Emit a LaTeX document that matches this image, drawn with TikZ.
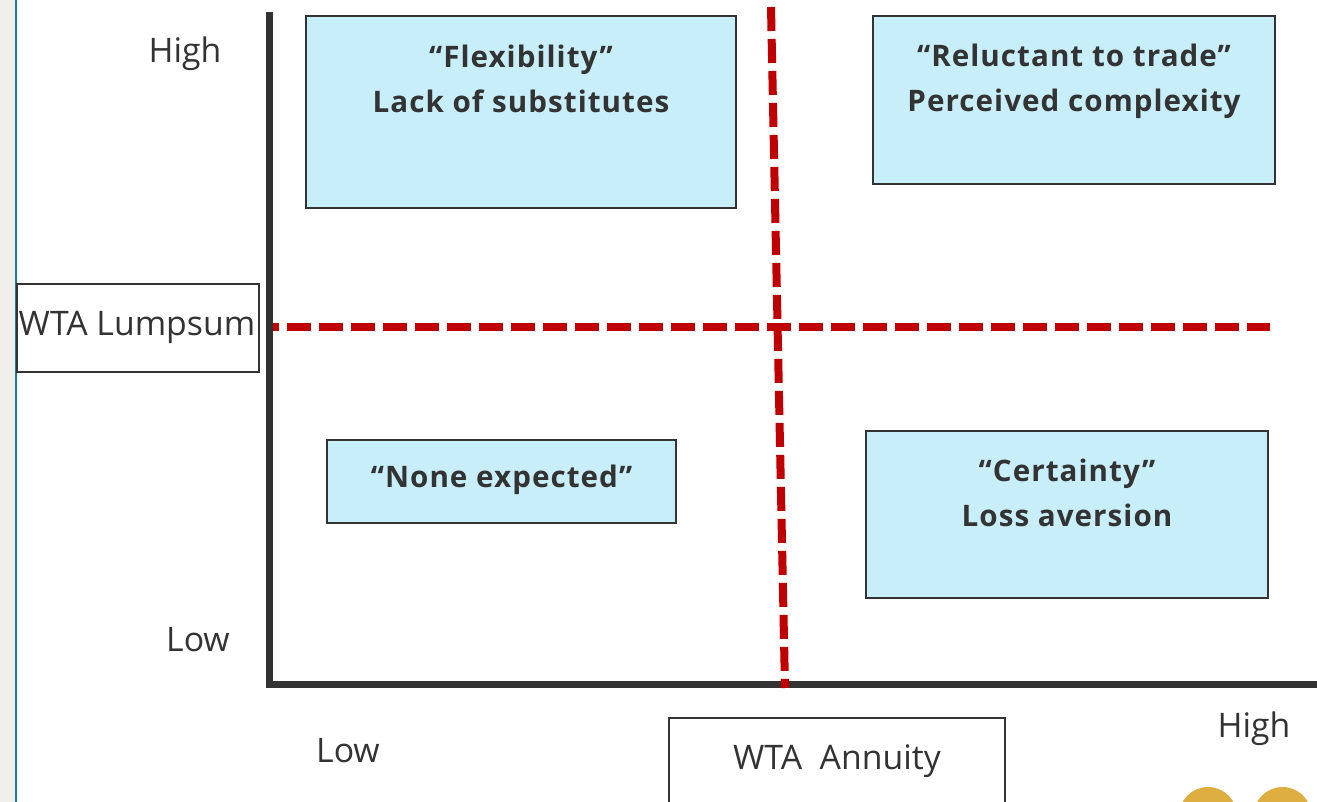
\documentclass[tikz,border=0pt]{standalone}
\usepackage{fontspec}
\setmainfont{Open Sans}
\newfontfamily\quadfont[LetterSpace=3.5]{Open Sans}
\usetikzlibrary{positioning}
\usepackage{xcolor}

\definecolor{inkgray}{HTML}{333333}
\definecolor{cutred}{HTML}{C00000}
\definecolor{quadfill}{HTML}{C7EEF9}
\definecolor{edgeteal}{HTML}{1B7C9C}
\definecolor{stripgray}{HTML}{F0EFEB}
\definecolor{dotgold}{HTML}{DFAE40}

\tikzset{
  quadbox/.style={draw=inkgray, line width=0.75pt, fill=quadfill, inner sep=0pt},
  quadtext/.style={font=\quadfont\fontsize{14.8}{22.5}\selectfont\bfseries, text=inkgray, align=center, inner sep=0pt},
  axislabel/.style={font=\fontsize{16.9}{20}\selectfont, text=inkgray, inner sep=0pt},
  wtabox/.style={draw=inkgray, line width=0.75pt, fill=white, inner sep=0pt},
  axisline/.style={inkgray, line width=3.5pt},
  cutline/.style={cutred, line width=4pt, dash pattern=on 12pt off 4pt},
}

\begin{document}
\begin{tikzpicture}[x=0.5pt, y=-0.5pt]
    \useasboundingbox (0,0) rectangle (1317,802);
    \clip (0,0) rectangle (1317,802);

    % page edge
    \fill [stripgray] (0,0) rectangle (15,802);
    \draw [edgeteal, line width=1pt] (16,0) to (16,802);

    \coordinate (origin) at (269,684);
    \coordinate (ytop) at (269,12);
    \coordinate (xend) at (1317,684);

    \coordinate (hcutL) at (273,327);
    \coordinate (hcutR) at (1270,327);
    \coordinate (vcutT) at (771,7);
    \coordinate (vcutB) at (785,688);

    % quadrant boxes
    \node [quadbox, minimum width=215pt, minimum height=96pt] (flex) at (521,112) {};
    \node [quadtext] (flextxt) at (521,79) {“Flexibility”\\Lack of substitutes};

    \node [quadbox, minimum width=201pt, minimum height=84pt] (reluct) at (1074,100) {};
    \node [quadtext] (reluctxt) at (1074,81) {“Reluctant to trade”\\Perceived complexity};

    \node [quadbox, minimum width=174.5pt, minimum height=41.5pt] (none) at (501.5,481.5) {};
    \node [quadtext] (nonetxt) at (501.5,480) {“None expected”};

    \node [quadbox, minimum width=201pt, minimum height=83.5pt] (certain) at (1067,514.5) {};
    \node [quadtext] (certaintxt) at (1067,493) {“Certainty”\\Loss aversion};

    % axis names
    \node [wtabox, minimum width=121pt, minimum height=44pt] (lumpsum) at (138,328) {};
    \node [axislabel] (lumpsumtxt) at (137,327) {WTA Lumpsum};
    \node [wtabox, minimum width=168pt, minimum height=60pt] (annuity) at (837,778) {};
    \node [axislabel] (annuitytxt) at (837,761) {WTA\ \ Annuity};

    \node [axislabel] (yhigh) at (185,54) {High};
    \node [axislabel] (ylow) at (198,640) {Low};
    \node [axislabel] (xlow) at (348,751) {Low};
    \node [axislabel] (xhigh) at (1254,729) {High};

    % axes
    \draw [axisline] (ytop) to ([yshift=-1.75pt]origin);
    \draw [axisline] ([xshift=-1.75pt]origin) to (xend);

    % cut lines
    \draw [cutline, dash phase=9pt] (hcutL) to (hcutR);
    \draw [cutline] (vcutT) to (vcutB);

    \fill [dotgold] (1208,816) circle [radius=14.5pt];
    \fill [dotgold] (1282.5,816) circle [radius=14.5pt];
\end{tikzpicture}
\end{document}
